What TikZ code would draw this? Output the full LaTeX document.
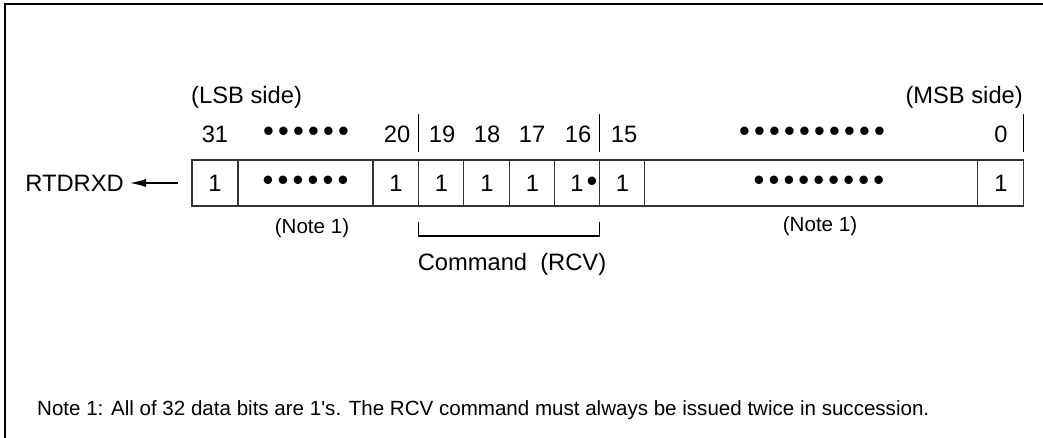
\documentclass[tikz,border=0pt]{standalone}
\usepackage{fontspec}
\setmainfont{Liberation Sans}[Ligatures=TeXOff]
\usetikzlibrary{arrows.meta,positioning}
\newcommand\bigdot{\makebox[0.3cm]{\scalebox{1.3}{•}}}
\newcommand\dotrow[1]{\foreach \i in {1,...,#1}{\bigdot}}

\begin{document}
\begin{tikzpicture}[x=0.02cm,y=-0.02cm,>={Latex[length=0.32cm,width=0.16cm]},
 cell/.style={draw=black!80,line width=0.6pt,minimum height=0.92cm,inner sep=0pt,
 outer sep=0pt,font=\fontsize{13.5}{15}\selectfont},
 num/.style={font=\fontsize{13.5}{15}\selectfont},
 note/.style={font=\fontsize{11.7}{14}\selectfont}]
\useasboundingbox (0,0) rectangle (1043,438);
\draw[line width=0.8pt] (1043,4) -- (5,4) -- (5,438);
% register, bit 31 on the left
\node[cell,minimum width=0.92cm] (b31) at (215,183) {1};
\node[cell,minimum width=2.7cm,right=0pt of b31] (b30) {\dotrow{6}};
\node[cell,minimum width=0.92cm,right=0pt of b30] (b20) {1};
\node[cell,minimum width=0.9cm,right=0pt of b20] (b19) {1};
\node[cell,minimum width=0.92cm,right=0pt of b19] (b18) {1};
\node[cell,minimum width=0.9cm,right=0pt of b18] (b17) {1};
\node[cell,minimum width=0.9cm,right=0pt of b17] (b16)
 {\hspace*{0.28cm}\makebox[0.3cm]{1}\bigdot};
\node[cell,minimum width=0.9cm,right=0pt of b16] (b15) {1};
\node[cell,minimum width=6.66cm,right=0pt of b15] (b14) {\hspace*{0.3cm}\dotrow{9}};
\node[cell,minimum width=0.92cm,right=0pt of b14] (b0) {1};
% bit numbers
\foreach \x/\t in {215/31,306/{\dotrow{6}},397/20,442/19,487/18,532/17,578/16,624/15,
 812/{\dotrow{10}},1001/0}
 \node[num] (n\x) at (\x,134) {\t};
\foreach \c in {b19.north west,b15.north west,b0.north east}
 \draw[line width=0.6pt] (\c) ++(0,-8) -- ++(0,-38);
\node[num,anchor=west] (lsb) at (185,97) {(LSB side)};
\node[num,anchor=east] (msb) at (1029,97) {(MSB side)};
% output
\node[num,anchor=east] (rtd) at (130,183) {RTDRXD};
\coordinate (src) at ([xshift=-0.28cm]b31.west);
\draw[->,line width=0.6pt] (src) -- (rtd);
% notes and command field
\node[note] (nl) at (312,228) {(Note 1)};
\node[note] (nr) at (820,226) {(Note 1)};
\draw[line width=0.6pt] ([yshift=-0.32cm]b19.south west) -- ++(0,14) -| ([yshift=-0.32cm]b16.south east);
\node[num] (cmd) at (512,264) {Command\ \ (RCV)};
\node[note,anchor=west] (foot) at (31,410)
 {Note 1: All of 32 data bits are 1's. The RCV command must always be issued twice in succession.};
\end{tikzpicture}
\end{document}
